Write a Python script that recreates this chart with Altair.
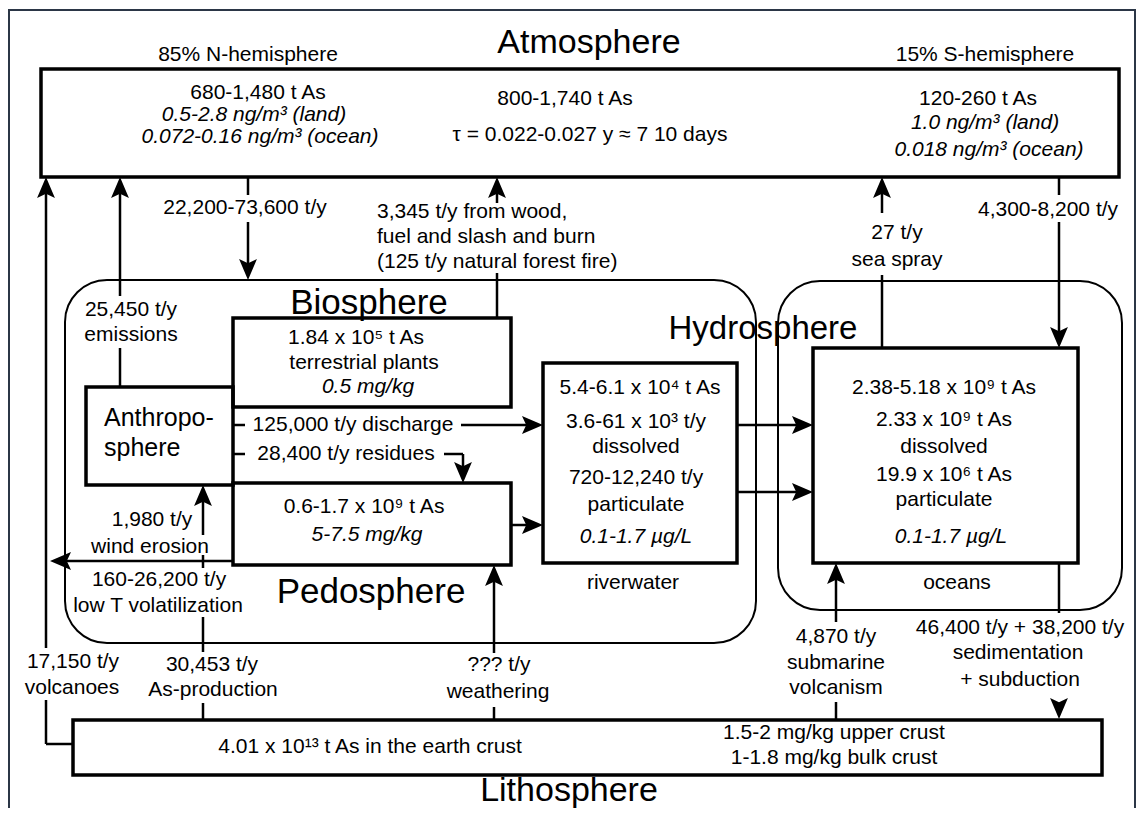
import altair as alt
import pandas as pd

# ---------------- data (diagram in reference pixel coordinates) ----------------
# thick reservoir boxes
box_name = ["atmosphere", "plants", "anthroposphere", "soil", "riverwater", "ocean", "lithosphere"]
box_x1 = [41, 233, 86, 233, 543, 813, 73]
box_y1 = [69, 318, 387, 483, 363, 348, 720]
box_x2 = [1119, 511, 233, 511, 737, 1078, 1102]
box_y2 = [177, 407, 485, 565, 563, 563, 775]

# rounded sphere outlines
outline_x1 = [65, 778]
outline_y1 = [280, 281]
outline_x2 = [756, 1122]
outline_y2 = [643, 610]

# outer frame
frame_x1 = [9]
frame_y1 = [10]
frame_x2 = [1135]
frame_y2 = [830]

# flow line segments
seg_x1 = [46, 46, 46, 120, 120, 248, 248, 497, 497, 233, 461, 233, 444, 463, 511, 737, 737,
          233, 203, 203, 203, 203, 494, 494, 836, 836, 1059, 882, 882, 1059, 1059]
seg_y1 = [744, 648, 744, 387, 296, 177, 222, 203, 273, 425, 425, 454, 454, 454, 525, 425, 492,
          561, 493, 555, 617, 703, 575, 707, 573, 702, 563, 185, 275, 177, 222]
seg_x2 = [46, 46, 73, 120, 120, 248, 248, 497, 497, 245, 535, 245, 463, 463, 535, 805, 805,
          58, 203, 203, 203, 203, 494, 494, 836, 836, 1059, 882, 882, 1059, 1059]
seg_y2 = [700, 185, 744, 348, 185, 195, 272, 185, 318, 425, 425, 454, 454, 476, 525, 425, 492,
          561, 535, 568, 652, 720, 653, 720, 622, 719, 613, 213, 348, 195, 340]

# arrow heads: tip position and direction (0 up, 90 right, 180 down, 270 left)
arrow_x = [46, 120, 248, 497, 543, 463, 543, 813, 813, 50, 203, 494, 836, 1059, 882, 1059]
arrow_y = [177, 177, 280, 177, 425, 483, 525, 425, 492, 561, 485, 565, 563, 719, 177, 348]
arrow_angle = [0, 0, 180, 0, 90, 180, 90, 90, 90, 270, 0, 0, 0, 180, 0, 180]

# texts
text_label = [
    "Atmosphere", "85% N-hemisphere", "15% S-hemisphere",
    "680-1,480 t As", "0.5-2.8 ng/m³ (land)", "0.072-0.16 ng/m³ (ocean)",
    "800-1,740 t As", "τ = 0.022-0.027 y ≈ 7 10 days",
    "120-260 t As", "1.0 ng/m³ (land)", "0.018 ng/m³ (ocean)",
    "22,200-73,600 t/y",
    "3,345 t/y from wood,", "fuel and slash and burn", "(125 t/y natural forest fire)",
    "27 t/y", "sea spray", "4,300-8,200 t/y",
    "25,450 t/y", "emissions",
    "Biosphere", "Hydrosphere", "Pedosphere", "Lithosphere",
    "1.84 x 10⁵ t As", "terrestrial plants", "0.5 mg/kg",
    "Anthropo-", "sphere",
    "125,000 t/y discharge", "28,400 t/y residues",
    "0.6-1.7 x 10⁹ t As", "5-7.5 mg/kg",
    "1,980 t/y", "wind erosion", "160-26,200 t/y", "low T volatilization",
    "17,150 t/y", "volcanoes", "30,453 t/y", "As-production",
    "??? t/y", "weathering",
    "4.01 x 10¹³ t As in the earth crust",
    "5.4-6.1 x 10⁴ t As", "3.6-61 x 10³ t/y", "dissolved", "720-12,240 t/y", "particulate",
    "0.1-1.7 µg/L", "riverwater",
    "2.38-5.18 x 10⁹ t As", "2.33 x 10⁹ t As", "dissolved", "19.9 x 10⁶ t As", "particulate",
    "0.1-1.7 µg/L", "oceans",
    "4,870 t/y", "submarine", "volcanism",
    "46,400 t/y + 38,200 t/y", "sedimentation", "+ subduction",
    "1.5-2 mg/kg upper crust", "1-1.8 mg/kg bulk crust",
]
text_x = [
    589, 248, 985,
    258, 254, 260,
    565, 590,
    978, 985, 989,
    245,
    377, 377, 377,
    897, 897, 1048,
    131, 131,
    369, 763, 371, 569,
    356, 364, 368,
    104, 104,
    353, 346,
    364, 367,
    152, 150, 159, 158,
    73, 72, 212, 213,
    499, 498,
    370,
    640, 636, 636, 636, 636,
    636, 633,
    944, 944, 944, 944, 944,
    951, 957,
    836, 836, 836,
    1020, 1018, 1020,
    834, 834,
]
text_y = [
    43, 55, 55,
    93, 115, 137,
    99, 135,
    99, 123, 150,
    208,
    212, 237, 262,
    233, 260, 210,
    310, 335,
    303, 329, 592, 791,
    338, 363, 387,
    418, 448,
    425, 454,
    507, 535,
    520, 547, 580, 606,
    662, 688, 665, 690,
    665, 692,
    747,
    388, 422, 447, 478, 505,
    537, 583,
    388, 420, 447, 475, 500,
    537, 583,
    637, 663, 688,
    628, 653, 680,
    733, 758,
]
text_size = [
    34, 21, 21,
    21, 21, 21,
    21, 21,
    21, 21, 21,
    21,
    21, 21, 21,
    21, 21, 21,
    21, 21,
    35, 33, 35, 34,
    21, 21, 21,
    25, 25,
    21, 21,
    21, 21,
    21, 21, 21, 21,
    21, 21, 21, 21,
    21, 21,
    21,
    21, 21, 21, 21, 21,
    21, 21,
    21, 21, 21, 21, 21,
    21, 21,
    21, 21, 21,
    21, 21, 21,
    21, 21,
]
italic_labels = ["0.5-2.8 ng/m³ (land)", "0.072-0.16 ng/m³ (ocean)", "1.0 ng/m³ (land)",
                 "0.018 ng/m³ (ocean)", "0.5 mg/kg", "5-7.5 mg/kg", "0.1-1.7 µg/L"]
left_labels = ["3,345 t/y from wood,", "fuel and slash and burn", "(125 t/y natural forest fire)",
               "Anthropo-", "sphere"]

# ---------------- build tables ----------------
boxes = pd.DataFrame({"name": box_name, "x1": box_x1, "y1": box_y1, "x2": box_x2, "y2": box_y2})
outlines = pd.DataFrame({"x1": outline_x1, "y1": outline_y1, "x2": outline_x2, "y2": outline_y2})
frame = pd.DataFrame({"x1": frame_x1, "y1": frame_y1, "x2": frame_x2, "y2": frame_y2})
segs = pd.DataFrame({"x1": seg_x1, "y1": seg_y1, "x2": seg_x2, "y2": seg_y2})
arrows = pd.DataFrame({"x": arrow_x, "y": arrow_y, "a": arrow_angle})
texts = pd.DataFrame({"label": text_label, "x": text_x, "y": text_y, "size": text_size})
texts["italic"] = texts["label"].isin(italic_labels)
texts["left"] = texts["label"].isin(left_labels)

FONT = "Liberation Sans"
xs = alt.Scale(domain=[8, 1136], nice=False, zero=False)
ys = alt.Scale(domain=[8, 808], nice=False, zero=False, reverse=True)


def rect_enc(ch):
    return ch.encode(
        x=alt.X("x1:Q", scale=xs, axis=None), x2="x2:Q",
        y=alt.Y("y1:Q", scale=ys, axis=None), y2="y2:Q",
    )


frame_layer = rect_enc(alt.Chart(frame).mark_rect(fill="transparent", stroke="#2b3646",
                                                   strokeWidth=2, clip=True))
outline_layer = rect_enc(alt.Chart(outlines).mark_rect(fill="transparent", stroke="black",
                                                       strokeWidth=2, cornerRadius=42))
box_layer = rect_enc(alt.Chart(boxes).mark_rect(fill="transparent", stroke="black",
                                                strokeWidth=3.5))
seg_layer = alt.Chart(segs).mark_rule(color="black", strokeWidth=2.5).encode(
    x=alt.X("x1:Q", scale=xs, axis=None), x2="x2:Q",
    y=alt.Y("y1:Q", scale=ys, axis=None), y2="y2:Q",
)
ARROW = "M0,0 L0.85,2 L0,1.6 L-0.85,2 Z"
arrow_layer = alt.Chart(arrows).mark_point(shape=ARROW, filled=True, size=441, color="black",
                                           opacity=1, strokeWidth=0).encode(
    x=alt.X("x:Q", scale=xs, axis=None),
    y=alt.Y("y:Q", scale=ys, axis=None),
    angle=alt.Angle("a:Q", scale=None),
)


def text_layer(df, style, align):
    return alt.Chart(df).mark_text(font=FONT, fontStyle=style, align=align, baseline="middle",
                                   color="black").encode(
        x=alt.X("x:Q", scale=xs, axis=None),
        y=alt.Y("y:Q", scale=ys, axis=None),
        text="label:N",
        size=alt.Size("size:Q", scale=None, legend=None),
    )


t_center = text_layer(texts[~texts.italic & ~texts.left], "normal", "center")
t_italic = text_layer(texts[texts.italic], "italic", "center")
t_left = text_layer(texts[texts.left], "normal", "left")

chart = alt.layer(
    frame_layer, outline_layer, box_layer, seg_layer, arrow_layer, t_center, t_italic, t_left
).properties(width=1128, height=800, padding=0, autosize="none",
             background="white").configure_view(stroke=None)

chart.save("out.html", embed_options={"renderer": "svg", "actions": False})
